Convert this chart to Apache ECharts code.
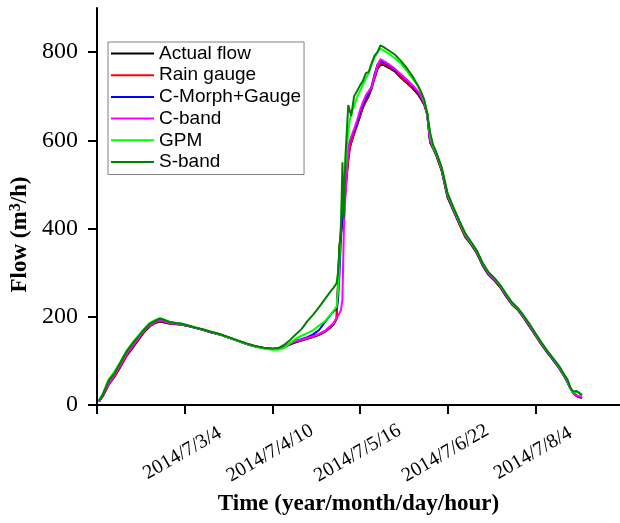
<!DOCTYPE html>
<html>
<head>
<meta charset="utf-8">
<script src="https://cdn.jsdelivr.net/npm/echarts@6/dist/echarts.min.js"></script>
<style>html,body{margin:0;padding:0;background:#fff}#c{width:620px;height:523px}</style>
</head>
<body>
<div id="c"></div>
<script>
// hours since 2014/7/1 22:00
const hours = [0.7, 2, 4, 6, 8, 10, 12, 14, 16, 18,
  20, 21.5, 23, 25, 27, 29, 31, 33, 36, 39,
  42, 45, 48, 51, 54, 57, 60, 62, 64, 66,
  68, 70, 72, 74, 76, 78, 80, 81, 82, 82.5,
  83, 83.5, 84, 84.5, 85, 85.5, 86, 86.5, 87, 88,
  89, 90, 91, 92, 93, 94, 95, 96, 97, 98,
  100, 102, 104, 106, 108, 110, 111, 112, 113, 114,
  115, 116, 118, 120, 122, 124, 126, 128, 130, 132,
  134, 136, 138, 140, 142, 144, 146, 148, 150, 152,
  154, 156, 158, 160, 161, 162, 163, 164, 165, 166];

const actualFlow = [8, 20, 46, 64, 86, 110, 128, 146, 164, 178,
  186, 189, 187, 184, 183, 182, 179, 176, 171, 165,
  160, 153, 146, 139, 133, 129, 127, 128, 131, 137,
  142, 146, 150, 154, 159, 166, 176, 183, 195, 280,
  360, 392, 420, 450, 480, 520, 555, 582, 594, 615,
  634, 654, 674, 688, 700, 718, 740, 762, 771, 771,
  764, 756, 742, 730, 718, 703, 692, 680, 660, 595,
  582, 568, 530, 470, 440, 410, 381, 364, 344, 316,
  295, 282, 267, 246, 228, 216, 198, 178, 158, 138,
  120, 103, 85, 64, 52, 38, 27, 21, 18, 16];

const rainGauge = [8, 21, 48, 66, 88, 112, 130, 148, 166, 180,
  188, 191, 189, 185, 184, 182, 180, 176, 171, 165,
  160, 153, 146, 139, 133, 129, 127, 128, 131, 138,
  144, 147, 151, 155, 160, 167, 178, 185, 197, 270,
  350, 388, 418, 452, 485, 522, 558, 584, 596, 617,
  636, 656, 676, 690, 703, 722, 744, 765, 775, 774,
  766, 758, 744, 731, 720, 706, 694, 682, 662, 598,
  583, 569, 531, 472, 441, 411, 383, 365, 345, 317,
  296, 283, 268, 247, 229, 216, 199, 179, 159, 139,
  121, 104, 86, 65, 53, 38, 27, 21, 18, 16];

const cMorphGauge = [8, 22, 50, 70, 92, 116, 134, 152, 168, 181,
  189, 193, 190, 186, 184, 182, 180, 176, 171, 165,
  160, 153, 146, 139, 133, 129, 127, 128, 132, 139,
  145, 149, 154, 160, 170, 188, 205, 212, 218, 240,
  300, 380, 430, 470, 510, 550, 580, 596, 606, 622,
  638, 662, 680, 696, 708, 722, 750, 772, 780, 777,
  770, 760, 748, 735, 722, 708, 696, 684, 660, 600,
  584, 571, 533, 474, 443, 413, 385, 366, 346, 318,
  297, 284, 269, 248, 230, 217, 200, 180, 160, 140,
  121, 104, 86, 65, 53, 38, 27, 22, 19, 17];

const cBand = [8, 22, 48, 68, 90, 114, 132, 150, 167, 180,
  188, 192, 189, 186, 184, 182, 180, 176, 171, 165,
  160, 153, 146, 139, 133, 129, 127, 128, 132, 139,
  145, 148, 152, 156, 161, 168, 180, 186, 198, 203,
  208, 215, 240, 400, 470, 530, 575, 598, 608, 626,
  645, 668, 686, 702, 712, 720, 745, 770, 784, 780,
  772, 762, 750, 738, 725, 710, 698, 684, 658, 600,
  585, 572, 534, 475, 444, 414, 386, 367, 347, 319,
  298, 285, 270, 249, 230, 218, 200, 181, 160, 140,
  122, 105, 87, 66, 54, 38, 26, 22, 20, 18];

const gpm = [10, 26, 58, 76, 98, 122, 140, 156, 172, 186,
  193, 197, 194, 188, 186, 184, 181, 177, 172, 166,
  160, 153, 146, 139, 133, 128, 125, 125, 129, 140,
  150, 157, 163, 170, 180, 190, 205, 214, 223, 260,
  330, 420, 470, 500, 540, 580, 620, 645, 660, 678,
  698, 712, 726, 740, 752, 772, 788, 800, 808, 804,
  796, 786, 774, 758, 740, 722, 708, 690, 662, 612,
  586, 573, 536, 478, 446, 416, 388, 368, 349, 321,
  300, 287, 271, 251, 232, 219, 202, 183, 162, 142,
  123, 106, 89, 67, 56, 38, 28, 30, 27, 22];

const sBand = [10, 24, 55, 72, 96, 120, 138, 154, 170, 184,
  191, 196, 193, 188, 186, 184, 181, 177, 172, 166,
  161, 154, 147, 140, 134, 130, 128, 129, 136, 147,
  160, 172, 190, 205, 222, 240, 258, 266, 276, 300,
  360, 400, 550, 425, 560, 620, 680, 684, 655, 700,
  712, 724, 735, 752, 755, 775, 792, 800, 815, 812,
  803, 794, 780, 764, 745, 722, 708, 692, 662, 618,
  590, 575, 538, 480, 448, 418, 390, 370, 350, 322,
  301, 288, 272, 252, 233, 220, 203, 184, 163, 143,
  124, 107, 90, 68, 58, 40, 30, 32, 28, 22];

const seriesNames = ['Actual flow', 'Rain gauge', 'C-Morph+Gauge', 'C-band', 'GPM', 'S-band'];
const seriesColors = ['#000000', '#ff0000', '#0000ff', '#ff00ff', '#00ff00', '#008000'];
const seriesValues = [actualFlow, rainGauge, cMorphGauge, cBand, gpm, sBand];

const xTickHours = [0, 30, 60, 90, 120, 150];
const xLabelHours = [30, 60, 90, 120, 150];
const xTickLabels = ['2014/7/3/4', '2014/7/4/10', '2014/7/5/16', '2014/7/6/22', '2014/7/8/4'];
const yTicks = [0, 200, 400, 600, 800];

const chart = echarts.init(document.getElementById('c'), null, {renderer: 'canvas'});

const serif = 'Liberation Serif';
const axisLine = {show: true, onZero: false, lineStyle: {color: '#000', width: 2}};
const axisTick = {show: true, inside: false, length: 9, lineStyle: {color: '#000', width: 2}};

chart.setOption({
  animation: false,
  backgroundColor: '#fff',
  grid: {left: 97, right: 0, top: 8, bottom: 118, containLabel: false},
  legend: {
    orient: 'vertical',
    left: 108, top: 42,
    data: seriesNames.map(n => ({name: n, icon: 'rect'})),
    borderColor: '#808080', borderWidth: 1,
    padding: [2, 3, 3, 3],
    itemWidth: 43, itemHeight: 2, itemGap: 2.7,
    textStyle: {fontFamily: 'Liberation Sans', fontSize: 19, color: '#000', lineHeight: 19}
  },
  xAxis: {
    type: 'value', min: 0, max: 179,
    axisLine: axisLine,
    axisTick: Object.assign({}, axisTick, {customValues: xTickHours}),
    splitLine: {show: false},
    axisLabel: {
      customValues: xLabelHours,
      formatter: v => xTickLabels[xLabelHours.indexOf(v)] || '',
      rotate: 30, align: 'center', verticalAlign: 'middle', margin: 47,
      padding: [0, 5, 0, 0],
      fontFamily: serif, fontSize: 20, color: '#000'
    },
    name: 'Time (year/month/day/hour)',
    nameLocation: 'middle', nameGap: 87,
    nameTextStyle: {fontFamily: serif, fontWeight: 'bold', fontSize: 23, color: '#000'}
  },
  yAxis: {
    type: 'value', min: 0, max: 900,
    axisLine: axisLine,
    axisTick: Object.assign({}, axisTick, {customValues: yTicks}),
    splitLine: {show: false},
    axisLabel: {customValues: yTicks, margin: 19, fontFamily: serif, fontSize: 24, color: '#000'},
    name: 'Flow (m{sup|3}/h)',
    nameLocation: 'middle', nameRotate: 90, nameGap: 63,
    nameTextStyle: {
      fontFamily: serif, fontWeight: 'bold', fontSize: 23, color: '#000',
      padding: [0, 56, 0, 0],
      rich: {sup: {fontFamily: serif, fontWeight: 'bold', fontSize: 16, color: '#000', verticalAlign: 'top'}}
    }
  },
  series: seriesNames.map((n, i) => ({
    name: n, type: 'line',
    data: hours.map((h, k) => [h, seriesValues[i][k]]),
    symbol: 'none', showSymbol: false,
    lineStyle: {color: seriesColors[i], width: 2},
    itemStyle: {color: seriesColors[i]},
    clip: true
  }))
});
</script>
</body>
</html>
